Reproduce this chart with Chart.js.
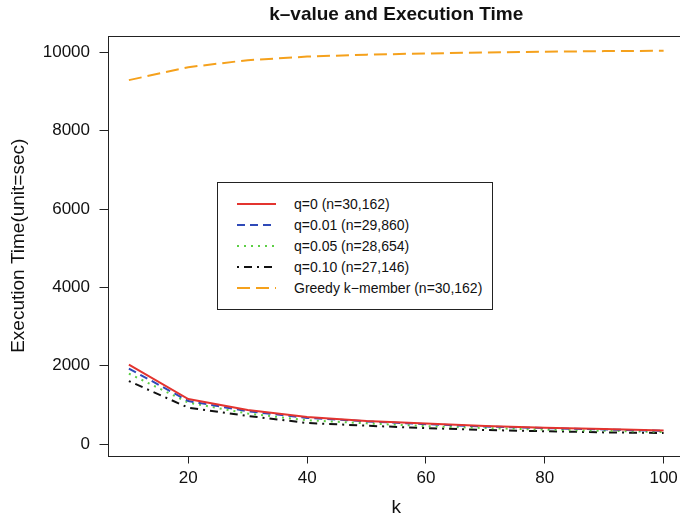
<!DOCTYPE html>
<html>
<head>
<meta charset="utf-8">
<script src="https://cdn.jsdelivr.net/npm/chart.js@4/dist/chart.umd.min.js"></script>
<style>
  body { margin: 0; overflow: hidden; background: #fff; font-family: "Liberation Sans", Arial, sans-serif; }
  #wrap { position: relative; width: 680px; height: 519px; overflow: hidden; }
  #chart { position: absolute; left: 0; top: 0; }
  #legend { position: absolute; left: 217px; top: 182px; width: 274px; height: 126px; border: 1px solid #222; background: #fff; }
  .row { position: absolute; left: 0; width: 270px; height: 20px; font-size: 14px; line-height: 20px; color: #111; }
  .row svg { position: absolute; left: 19px; top: 0; }
  .row span { position: absolute; left: 76px; white-space: nowrap; }
</style>
</head>
<body>
<div id="wrap">
  <canvas id="chart" width="686" height="519"></canvas>
  <div id="legend"></div>
</div>
<script>
const kValues = [10, 20, 30, 40, 50, 60, 70, 80, 90, 100];

const q0 = [2030, 1150, 870, 690, 590, 525, 460, 420, 385, 350];
const q001 = [1930, 1100, 840, 670, 580, 510, 450, 410, 375, 340];
const q005 = [1800, 1060, 780, 610, 530, 460, 410, 370, 340, 310];
const q010 = [1610, 930, 720, 540, 470, 410, 360, 330, 300, 285];
const greedy = [9290, 9620, 9800, 9890, 9940, 9970, 9995, 10015, 10030, 10040];

const seriesNames = [
  'q=0 (n=30,162)',
  'q=0.01 (n=29,860)',
  'q=0.05 (n=28,654)',
  'q=0.10 (n=27,146)',
  'Greedy k\u2212member (n=30,162)'
];
const seriesValues = [q0, q001, q005, q010, greedy];
const seriesColours = ['#e3342f', '#2f4ab8', '#5ccf45', '#111111', '#f5a11c'];
const seriesDashes = [[], [8, 5], [2, 5], [2, 5, 8, 5], [13, 6]];

const xTicks = [20, 40, 60, 80, 100];
const yTicks = [0, 2000, 4000, 6000, 8000, 10000];

let datasets = []
for (let i = 0; i < seriesValues.length; i++) {
  datasets.push({
    label: seriesNames[i],
    data: kValues.map((k, j) => ({x: k, y: seriesValues[i][j]})),
    borderColor: seriesColours[i],
    backgroundColor: seriesColours[i],
    borderDash: seriesDashes[i],
    borderWidth: 2,
    pointRadius: 0,
    tension: 0,
    fill: false
  })
}

// box round the plot region, as in base R
const boxPlugin = {
  id: 'box',
  afterDatasetsDraw(chart) {
    const a = chart.chartArea;
    const ctx = chart.ctx;
    ctx.save();
    ctx.strokeStyle = '#222';
    ctx.lineWidth = 1;
    ctx.strokeRect(Math.round(a.left) + 0.5, Math.round(a.top) + 0.5,
      Math.round(a.right - a.left), Math.round(a.bottom - a.top));
    ctx.restore();
  }
};

Chart.defaults.font.family = '"Liberation Sans", Arial, sans-serif';
Chart.defaults.color = '#111';

const chart = new Chart(document.getElementById('chart').getContext('2d'), {
  type: 'line',
  data: {datasets: datasets},
  options: {
    responsive: false,
    animation: false,
    layout: {padding: {left: 0, right: 1, top: 0, bottom: 0}},
    plugins: {
      legend: {display: false},
      tooltip: {enabled: false},
      title: {
        display: true,
        fullSize: false,
        text: 'k\u2013value and Execution Time',
        font: {size: 19, weight: 'bold'},
        color: '#111',
        padding: {top: 3, bottom: 10.2}
      }
    },
    scales: {
      x: {
        type: 'linear',
        min: 6.4,
        max: 103.6,
        afterBuildTicks: s => { s.ticks = xTicks.map(v => ({value: v})) },
        afterFit: s => { s.height = 63.5 },
        grid: {drawOnChartArea: false, drawTicks: true, tickLength: 8, tickColor: '#222', color: '#222'},
        border: {display: false},
        ticks: {font: {size: 17}, color: '#111', padding: 5, maxRotation: 0, autoSkip: false, callback: v => String(v)},
        title: {display: true, text: 'k', font: {size: 19}, color: '#111', padding: {top: 0, bottom: 0}}
      },
      y: {
        type: 'linear',
        min: -290,
        max: 10416,
        afterBuildTicks: s => { s.ticks = yTicks.map(v => ({value: v})) },
        afterFit: s => { s.width = 107.5 },
        grid: {drawOnChartArea: false, drawTicks: true, tickLength: 8, tickColor: '#222', color: '#222'},
        border: {display: false},
        ticks: {font: {size: 17}, color: '#111', padding: 9.5, autoSkip: false, callback: v => String(v)},
        title: {display: true, text: 'Execution Time(unit=sec)', font: {size: 19}, color: '#111', padding: {top: 7, bottom: 0}}
      }
    }
  },
  plugins: [boxPlugin]
});

// legend placed inside the plot, drawn from the same series styles
const legendEl = document.getElementById('legend');
for (let i = 0; i < seriesNames.length; i++) {
  const row = document.createElement('div');
  row.className = 'row';
  row.style.top = (11 + i * 21) + 'px';
  const dash = seriesDashes[i].length ? ' stroke-dasharray="' + seriesDashes[i].join(' ') + '"' : '';
  row.innerHTML =
    '<svg width="40" height="20"><line x1="0" y1="10" x2="39" y2="10" stroke="' + seriesColours[i] +
    '" stroke-width="2"' + dash + '/></svg><span>' + seriesNames[i] + '</span>';
  legendEl.appendChild(row);
}
</script>
</body>
</html>
